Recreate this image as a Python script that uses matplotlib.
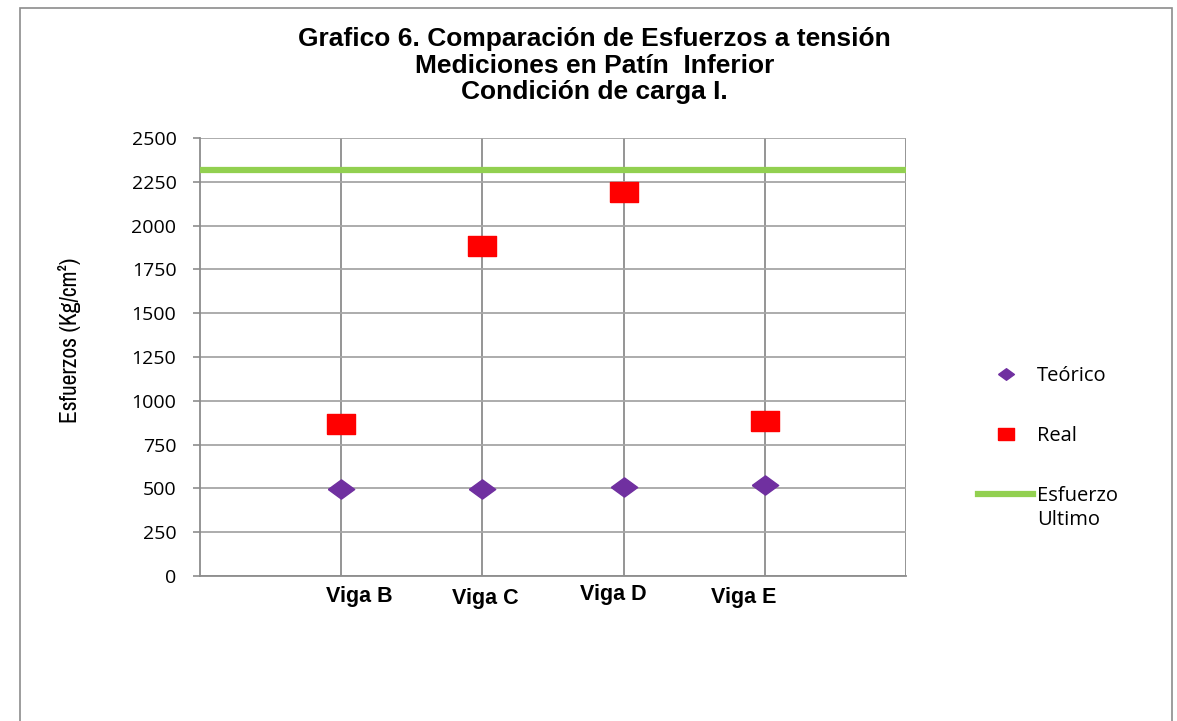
import matplotlib.pyplot as plt
from matplotlib import font_manager
from matplotlib.patches import Rectangle

# Esfuerzos medidos en el patin inferior, condicion de carga I
vigas = ["Viga B", "Viga C", "Viga D", "Viga E"]
posiciones = [1, 2, 3, 4]
teorico = [495, 495, 508, 519]
real = [869, 1885, 2193, 886]
esfuerzo_ultimo = 2317

# offsets of the category captions (axis units) and their heights (px above bottom)
caption_x = [1.13, 2.02, 2.93, 3.85]
caption_y = [-0.047, -0.051, -0.043, -0.048]

plt.rcParams['font.family'] = ['Open Sans', 'DejaVu Sans']

# condensed face for the y axis label, if one is installed
narrow = sorted({f.name for f in font_manager.fontManager.ttflist if 'Narrow' in f.name})

fig = plt.figure(figsize=(11.77, 7.21), dpi=100)
ax = fig.add_axes([200 / 1177, 1 - 576 / 721, 706 / 1177, 438 / 721])

grid_gray = '#8c8c8c'

# wide rectangle and flat diamond markers
rect = [(-1, -0.74), (1, -0.74), (1, 0.74), (-1, 0.74), (-1, -0.74)]
diamond = [(-1, 0), (0, 0.73), (1, 0), (0, -0.73), (-1, 0)]

ax.plot(posiciones, teorico, linestyle='none', marker=diamond, markersize=19,
        color='#7030A0', label='Teórico', zorder=4)
ax.plot(posiciones, real, linestyle='none', marker=rect, markersize=19.5,
        color='#FF0000', label='Real', zorder=4)
ax.axhline(esfuerzo_ultimo, color='#92D050', linewidth=4.5,
           label='Esfuerzo', zorder=3)

ax.set_xlim(0, 5)
ax.set_ylim(0, 2500)
ax.set_yticks(range(0, 2501, 250))
ax.set_xticks([1, 2, 3, 4, 5])
ax.set_xticklabels([])
ax.tick_params(axis='x', length=0)
ax.tick_params(axis='y', length=5, width=1.2, color=grid_gray, pad=12,
               labelsize=14)
ax.grid(axis='y', color='#a6a6a6', linewidth=1.3)
ax.grid(axis='x', color=grid_gray, linewidth=1.3)
ax.set_axisbelow(True)
for side in ['top', 'right']:
    ax.spines[side].set_visible(False)
for side in ['left', 'bottom']:
    ax.spines[side].set_color(grid_gray)
    ax.spines[side].set_linewidth(1.3)

if narrow:
    ax.set_ylabel('Esfuerzos (Kg/cm²)', family=narrow[0], fontsize=17)
else:
    ax.set_ylabel('Esfuerzos (Kg/cm²)', family='Liberation Sans', fontsize=14)
ax.yaxis.set_label_coords(-0.169, 0.539)

for nombre, cx, cy in zip(vigas, caption_x, caption_y):
    ax.text(cx / 5, cy, nombre, transform=ax.transAxes, ha='center',
            va='center', family='Liberation Sans', fontweight='bold',
            fontsize=15.5)

fig.text(0.505, 0.909, 'Grafico 6. Comparación de Esfuerzos a tensión\n'
         'Mediciones en Patín  Inferior\nCondición de carga I.',
         ha='center', va='center', family='Liberation Sans',
         fontweight='bold', fontsize=19, linespacing=1.13)

leg = ax.legend(loc='center left', bbox_to_anchor=(978 / 1177, 1 - 436 / 721),
                bbox_transform=fig.transFigure, frameon=False, fontsize=14.5,
                markerscale=0.6, handlelength=2.74, handletextpad=0.2,
                labelspacing=1.98, borderaxespad=0, borderpad=0)

# second line of the "Esfuerzo Ultimo" legend entry
ax.annotate('Ultimo', xy=(0, 0), xycoords=leg.get_texts()[2],
            xytext=(0, -3), textcoords='offset points', ha='left', va='top',
            fontsize=14.5, zorder=6, annotation_clip=False)

# outer chart frame
fig.patches.append(Rectangle((20 / 1177, -0.05), 1152 / 1177, 1.05 - 8 / 721,
                             transform=fig.transFigure, fill=False,
                             edgecolor='#8c8c8c', linewidth=1.2))

fig.savefig('out.png', dpi=100)
